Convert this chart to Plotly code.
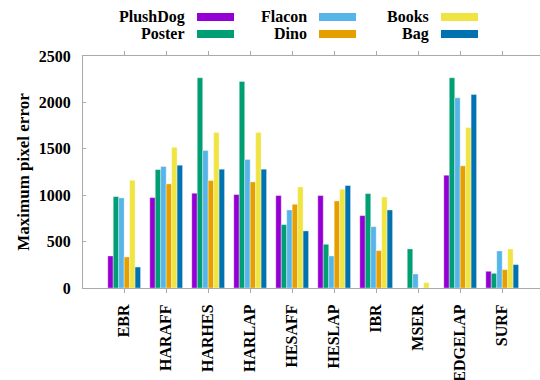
import plotly.graph_objects as go

# Detectors on the x axis, objects as series
detectors = ["EBR", "HARAFF", "HARHES", "HARLAP", "HESAFF",
             "HESLAP", "IBR", "MSER", "EDGELAP", "SURF"]

plushdog = [345, 974, 1021, 1007, 996, 996, 780, 0, 1215, 180]
poster = [985, 1276, 2265, 2225, 683, 471, 1017, 421, 2265, 158]
flacon = [971, 1309, 1481, 1384, 841, 345, 661, 151, 2049, 399]
dino = [334, 1122, 1158, 1143, 902, 938, 403, 0, 1316, 198]
books = [1161, 1517, 1675, 1675, 1089, 1064, 981, 58, 1729, 421]
bag = [226, 1323, 1280, 1280, 615, 1104, 841, 0, 2085, 252]

y_ticks = [0, 500, 1000, 1500, 2000, 2500]

series = [
    ("PlushDog", plushdog, "#9400D3"),
    ("Poster", poster, "#009E73"),
    ("Flacon", flacon, "#56B4E9"),
    ("Dino", dino, "#E69F00"),
    ("Books", books, "#F0E442"),
    ("Bag", bag, "#0072B2"),
]

W, H = 540, 380
ML, MR, MT, MB = 83, 0, 56, 92
FONT = dict(family="'Liberation Serif', 'Times New Roman', serif", size=16,
            color="black", weight="bold")

fig = go.Figure()
for name, vals, col in series:
    fig.add_trace(go.Bar(
        x=list(range(len(detectors))), y=vals, name=name,
        marker=dict(color=col, line=dict(color="rgba(255,255,255,0.6)", width=0.6)),
        showlegend=False,
    ))

# gnuplot-style key: label right-aligned, colour swatch to its right,
# filled column by column (two rows, three columns)
def px_to_paper_x(px):
    return (px - ML) / (W - ML - MR)

def px_to_paper_y(py):
    return (H - MB - py) / (H - MT - MB)

shapes = []
annotations = []
col_text_right = [187, 309, 431]
row_center = [17, 34]
for i, (name, vals, col) in enumerate(series):
    c, r = divmod(i, 2)
    xr = col_text_right[c]
    yc = row_center[r]
    annotations.append(dict(
        x=px_to_paper_x(xr), y=px_to_paper_y(yc), xref="paper", yref="paper",
        text=name, showarrow=False, xanchor="right", yanchor="middle",
        font=FONT,
    ))
    shapes.append(dict(
        type="rect", xref="paper", yref="paper",
        x0=px_to_paper_x(xr + 10), x1=px_to_paper_x(xr + 47),
        y0=px_to_paper_y(yc + 4), y1=px_to_paper_y(yc - 4),
        fillcolor=col, line=dict(width=0),
    ))

fig.update_layout(
    width=W, height=H,
    margin=dict(l=ML, r=MR, t=MT, b=MB, autoexpand=False),
    paper_bgcolor="white", plot_bgcolor="white",
    barmode="group", bargap=0.22, bargroupgap=0,
    font=FONT,
    shapes=shapes, annotations=annotations,
)

fig.update_xaxes(
    range=[-0.98, 9.9],
    tickmode="array", tickvals=list(range(len(detectors))), ticktext=detectors,
    tickangle=-90, tickfont=FONT,
    showline=True, linecolor="#aaaaaa", linewidth=1, mirror="ticks",
    ticks="outside", ticklen=4, tickcolor="#aaaaaa",
    ticklabelstandoff=5,
    showgrid=False, zeroline=False, automargin=False,
)
fig.update_yaxes(
    range=[0, 2500], tickmode="array", tickvals=y_ticks,
    tickfont=FONT,
    title=dict(text="Maximum pixel error", font=dict(FONT, size=17), standoff=4),
    showline=True, linecolor="#aaaaaa", linewidth=1,
    ticks="inside", ticklen=3, tickcolor="#aaaaaa",
    ticklabelstandoff=8,
    showgrid=False, zeroline=False, automargin=False,
)

fig.write_html("out.html")
